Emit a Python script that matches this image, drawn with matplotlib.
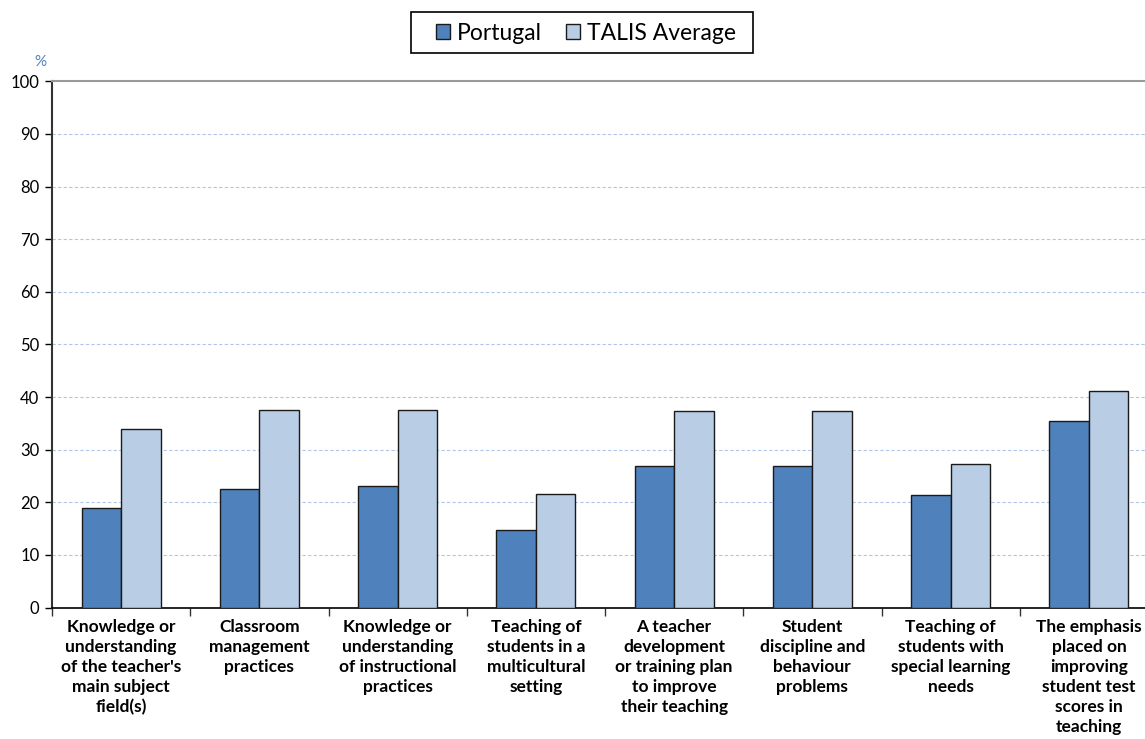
import matplotlib
matplotlib.use("Agg")
import matplotlib.pyplot as plt
import numpy as np
from matplotlib.patches import Patch, Rectangle

categories = [
    "Knowledge or\nunderstanding\nof the teacher's\nmain subject\nfield(s)",
    "Classroom\nmanagement\npractices",
    "Knowledge or\nunderstanding\nof instructional\npractices",
    "Teaching of\nstudents in a\nmulticultural\nsetting",
    "A teacher\ndevelopment\nor training plan\nto improve\ntheir teaching",
    "Student\ndiscipline and\nbehaviour\nproblems",
    "Teaching of\nstudents with\nspecial learning\nneeds",
    "The emphasis\nplaced on\nimproving\nstudent test\nscores in\nteaching",
]
portugal = [18.9, 22.6, 23.0, 14.8, 26.8, 26.8, 21.4, 35.5]
talis_avg = [33.9, 37.5, 37.5, 21.6, 37.3, 37.3, 27.3, 41.1]
series_names = ["Portugal", "TALIS Average"]
yticks = list(range(0, 101, 10))

c_pt = "#4f81bd"
c_talis = "#b9cde5"

plt.rcParams["font.family"] = ["Lato", "DejaVu Sans"]

W, H = 1145, 739
fig = plt.figure(figsize=(W / 100, H / 100), dpi=100)
ax = fig.add_axes([52 / W, 1 - 607.5 / H, 1106 / W, (607.5 - 81.3) / H])

x = np.arange(len(categories))
w = 0.286
ax.bar(x - w / 2, portugal, w, color=c_pt, edgecolor="#1a1a1a", linewidth=1.0, zorder=3)
ax.bar(x + w / 2, talis_avg, w, color=c_talis, edgecolor="#1a1a1a", linewidth=1.0, zorder=3)

ax.set_xlim(-0.5, len(categories) - 0.5)
ax.set_ylim(0, 100)
ax.set_yticks(yticks)
ax.tick_params(axis="y", direction="out", length=5, width=1, labelsize=12, pad=4, colors="#000000")

ax.set_xticks(x)
ax.set_xticklabels(categories, fontsize=12.5, fontweight="bold", linespacing=1.32)
ax.set_xticks(np.arange(-0.5, len(categories), 1.0), minor=True)
ax.tick_params(axis="x", which="major", length=0, pad=8)
ax.tick_params(axis="x", which="minor", direction="out", length=6, width=1, color="#333333")

for y in yticks[1:-1]:
    ax.axhline(y, color="#b0c6ea", linewidth=0.8, linestyle=(0, (3, 2)), zorder=1)

ax.spines["right"].set_visible(False)
ax.spines["top"].set_color("#999999")
ax.spines["top"].set_linewidth(1.5)
ax.spines["left"].set_color("#333333")
ax.spines["left"].set_linewidth(1.5)
ax.spines["bottom"].set_color("#000000")
ax.spines["bottom"].set_linewidth(1.2)

fig.text(40 / W, 1 - 62 / H, "%", color=c_pt, fontsize=11, ha="center", va="center")

# Legend entries without their own frame, boxed by a separate rectangle
handles = [
    Patch(facecolor=c_pt, edgecolor="#1a1a1a", linewidth=1.0),
    Patch(facecolor=c_talis, edgecolor="#1a1a1a", linewidth=1.0),
]
fig.legend(
    handles, series_names, loc="center", bbox_to_anchor=(586 / W, 1 - 33 / H),
    ncol=2, fontsize=16.5, frameon=False,
    handlelength=0.62, handleheight=0.62, handletextpad=0.3, columnspacing=1.05,
    borderpad=0, borderaxespad=0,
)
fig.patches.append(Rectangle((411 / W, 1 - 53 / H), 342 / W, 41 / H,
                             transform=fig.transFigure, fill=False,
                             edgecolor="#000000", linewidth=1.2))

fig.savefig("out.png", dpi=100)
